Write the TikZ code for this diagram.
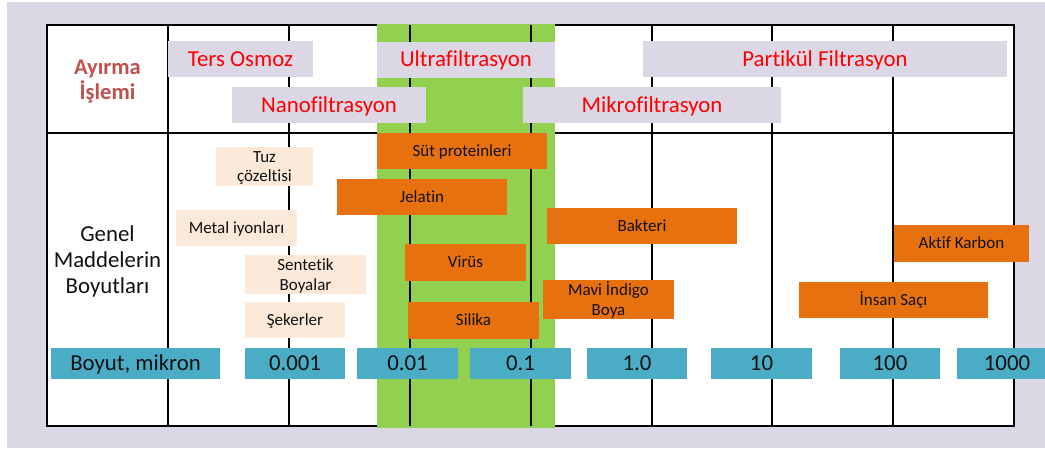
\documentclass[tikz,border=0pt]{standalone}
\usepackage{fontspec}
\setmainfont{Carlito}[Ligatures=NoCommon]
\definecolor{lav}{HTML}{DCD7E5}
\definecolor{grn}{HTML}{92D050}
\definecolor{orng}{HTML}{E8710F}
\definecolor{peach}{HTML}{FDE9D9}
\definecolor{blu}{HTML}{4BACC6}
\definecolor{hdr}{HTML}{C0504D}
\definecolor{txt}{HTML}{111111}
\newcommand{\twolines}[2]{\raisebox{-2pt}[\height][\depth]{\begin{tabular}{@{}c@{}}#1\\#2\end{tabular}}}
\begin{document}
\begin{tikzpicture}[x=1pt,y=-1pt,
  box/.style={rectangle, inner sep=0pt, outer sep=0pt},
  big/.style={font=\fontsize{22.8}{26}\selectfont},
  small/.style={font=\fontsize{17}{19.5}\selectfont},
  capbig/.style={text height=14.2pt, text depth=0pt},
  capsmall/.style={text height=10.7pt, text depth=0pt},
  proc/.style={box, big, capbig, fill=lav, text=red, minimum height=36pt},
  pbox/.style={box, small, fill=peach, text=txt, align=center},
  obox/.style={box, small, fill=orng, text=txt, align=center},
  sbox/.style={box, big, capbig, fill=blu, text=txt, minimum height=31pt},
  gridline/.style={line width=1.5pt, black}
]
\useasboundingbox (0,0) rectangle (1045,448);
\clip (0,0) rectangle (1045,448);
\fill[white] (0,0) rectangle (1045,448);
\fill[lav] (7,2) rectangle (1045,448);
% table
\fill[white] (47,25) rectangle (1014,426);
\draw[gridline] (47,25) rectangle (1014,426);
\draw[gridline] (47,133) -- (1014,133);
\fill[grn] (377,24) rectangle (555,427.5);
\foreach \x in {168,289,410,531,652,772,893} \draw[gridline] (\x,25) -- (\x,426);
% left column
\node[box, font=\fontsize{22.5}{25}\selectfont\bfseries, text=hdr, align=center] (ayirma) at (107.5,82) {Ayırma\\İşlemi};
\node[box, big, text=txt, align=center] (genel) at (107.5,261) {Genel\\Maddelerin\\Boyutları};
% separation processes
\node[proc, minimum width=145pt] (osmoz) at (240.5,59) {Ters Osmoz};
\node[proc, minimum width=194pt] (nano) at (329,105) {Nanofiltrasyon};
\node[proc, minimum width=178pt] (ultra) at (466,59.5) {Ultrafiltrasyon};
\node[proc, minimum width=258pt] (mikro) at (652,105) {Mikrofiltrasyon};
\node[proc, minimum width=364pt] (partikul) at (825,59) {Partikül Filtrasyon};
% light substances
\node[pbox, minimum width=97pt, minimum height=36pt] (tuz) at (264.5,166) {\twolines{Tuz}{çözeltisi}};
\node[pbox, capsmall, minimum width=121pt, minimum height=36pt] (metal) at (236.5,228) {Metal iyonları};
\node[pbox, minimum width=121pt, minimum height=37pt] (sentetik) at (305.5,274.5) {\twolines{Sentetik}{Boyalar}};
\node[pbox, capsmall, minimum width=100pt, minimum height=36pt] (seker) at (295,320) {Şekerler};
% orange substances
\node[obox, capsmall, minimum width=170pt, minimum height=36pt] (sut) at (462,151) {Süt proteinleri};
\node[obox, capsmall, minimum width=170pt, minimum height=36pt] (jelatin) at (422,197) {Jelatin};
\node[obox, capsmall, minimum width=190pt, minimum height=36pt] (bakteri) at (642,226) {Bakteri};
\node[obox, capsmall, minimum width=121pt, minimum height=37pt] (virus) at (465.5,262.5) {Virüs};
\node[obox, minimum width=131pt, minimum height=37pt] (mavi) at (608.5,299.5) {\twolines{Mavi İndigo}{Boya}};
\node[obox, capsmall, minimum width=131pt, minimum height=37pt] (silika) at (473.5,320.5) {Silika};
\node[obox, capsmall, minimum width=135pt, minimum height=37pt] (aktif) at (961.5,243.5) {Aktif Karbon};
\node[obox, capsmall, minimum width=189pt, minimum height=36pt] (insan) at (893.5,300) {İnsan Saçı};
% size scale
\node[sbox, minimum width=169pt] (boyut) at (135.5,363.5) {Boyut, mikron};
\node[sbox, minimum width=100pt] (s1) at (295,363.5) {0.001};
\node[sbox, minimum width=101pt] (s2) at (407.5,363.5) {0.01};
\node[sbox, minimum width=101pt] (s3) at (520.5,363.5) {0.1};
\node[sbox, minimum width=100pt] (s4) at (637,363.5) {1.0};
\node[sbox, minimum width=101pt] (s5) at (761.5,363.5) {10};
\node[sbox, minimum width=100pt] (s6) at (890,363.5) {100};
\node[sbox, minimum width=100pt] (s7) at (1007,363.5) {1000};
\end{tikzpicture}
\end{document}
